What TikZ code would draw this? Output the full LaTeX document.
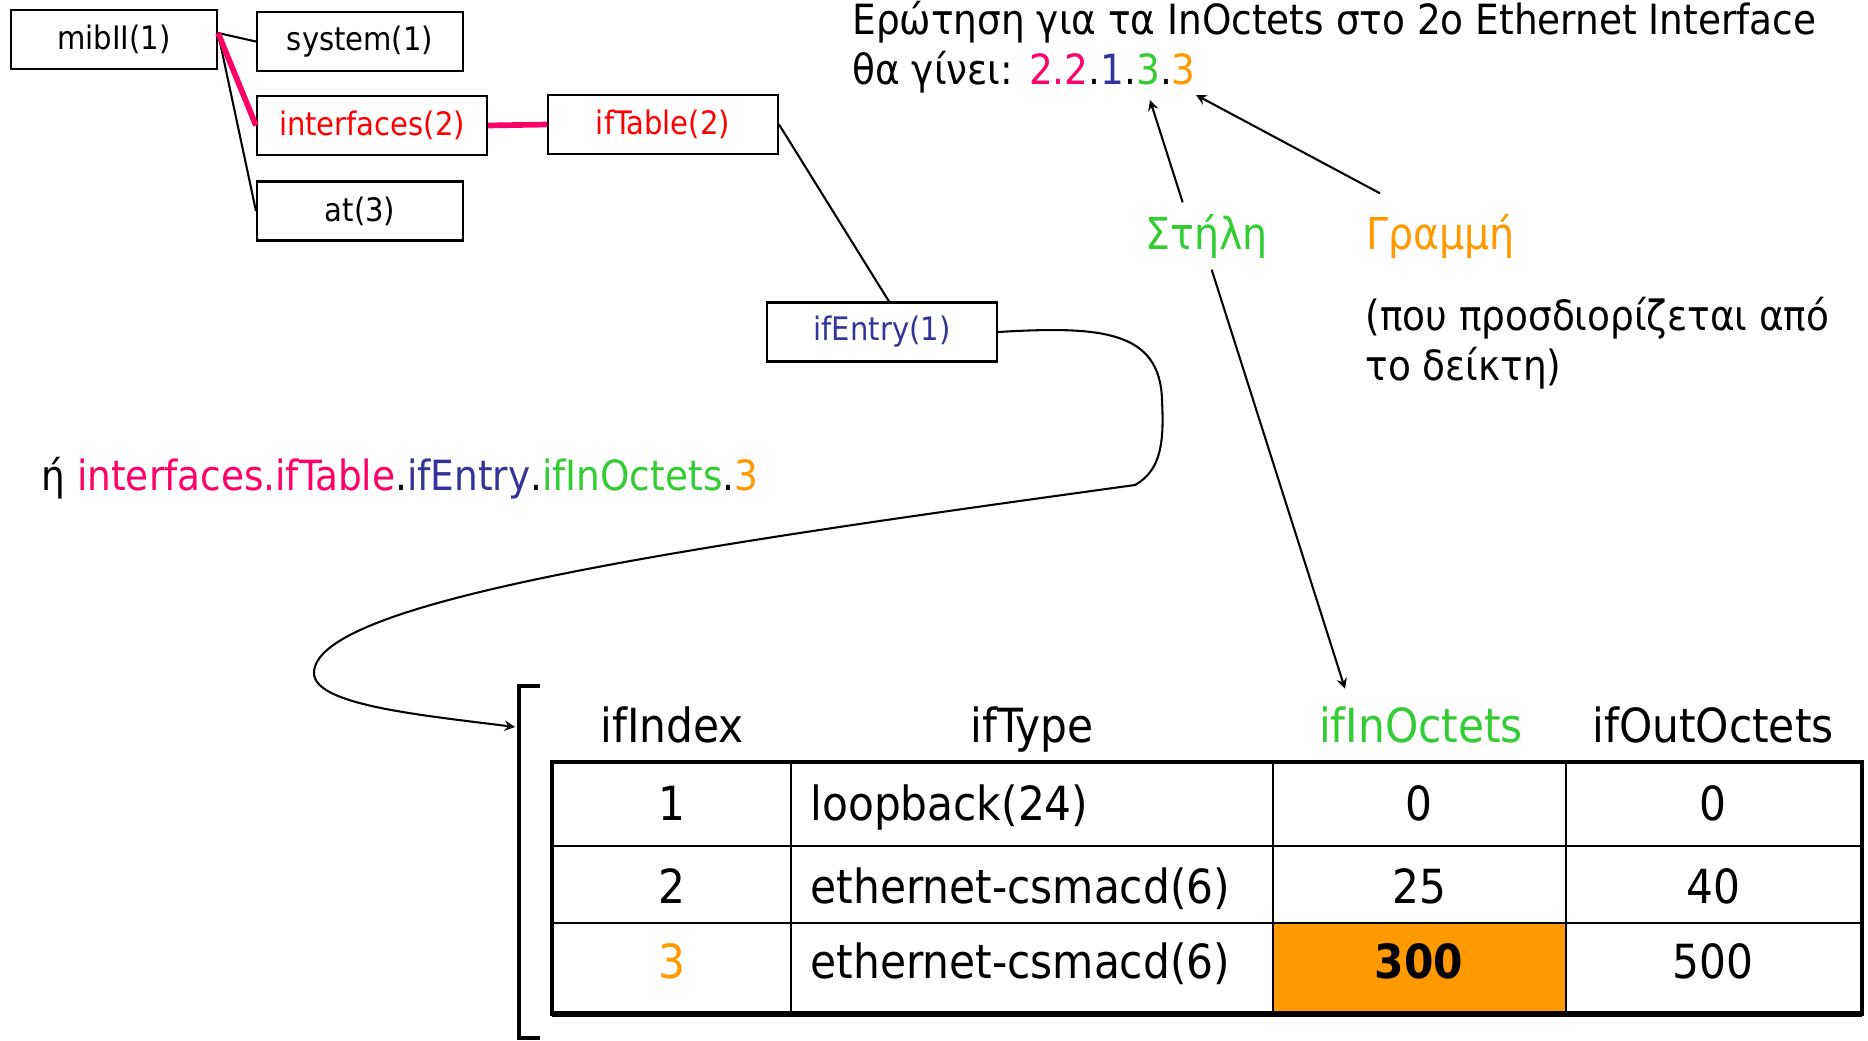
\documentclass[tikz,border=0pt]{standalone}
\usepackage{fontspec}
\setmainfont{DejaVu Sans Condensed}
\usetikzlibrary{arrows,calc}
\definecolor{mibpink}{HTML}{FF0066}
\definecolor{mibred}{HTML}{FF0000}
\definecolor{mibblue}{HTML}{333399}
\definecolor{mibgreen}{HTML}{33CC33}
\definecolor{miborange}{HTML}{FF9900}
\def\px{0.0136cm}
\tikzstyle{arrow} = [line width=0.8pt,->,>=stealth]

\begin{document}
\begin{tikzpicture}[x=\px,y=-\px]
    \useasboundingbox (0,0) rectangle (1868,1041);
    \tikzstyle{oid}=[draw, line width=0.8pt, minimum height=59*\px, inner sep=0pt, font=\fontsize{12.5}{15}\selectfont]
    \tikzstyle{oid narrow}=[oid, minimum width=206*\px]
    \tikzstyle{oid wide}=[oid, minimum width=230*\px]
    \tikzstyle{link}=[line width=0.8pt]
    \tikzstyle{path link}=[mibpink, line width=2.2pt]
    \tikzstyle{lbl}=[inner sep=0pt, anchor=base west, font=\fontsize{16.1}{19}\selectfont]
    \tikzstyle{tag}=[lbl, font=\fontsize{17}{20}\selectfont]
    \tikzstyle{cell}=[inner sep=0pt, anchor=base, font=\fontsize{18.2}{22}\selectfont]
    \tikzstyle{cell left}=[cell, anchor=base west]

    % Draw the MIB tree
    \node[oid narrow] (mib) at (114,39.5) {mibII(1)};
    \node[oid narrow] (sys) at (360,41.5) {system(1)};
    \node[oid wide, text=mibred] (intf) at (372,125.5) {interfaces(2)};
    \node[oid wide, text=mibred] (iftab) at (663,124.5) {ifTable(2)};
    \node[oid narrow] (atb) at (360,211) {at(3)};
    \node[oid wide, text=mibblue] (ifent) at (882,332) {ifEntry(1)};

    \coordinate (mibOut) at ([yshift=6.5*\px]mib.east);
    \draw[link] (mibOut) -- (sys.west);
    \draw[link] (mibOut) -- (atb.west);
    \draw[path link] (mibOut) -- (intf.west);
    \draw[path link] (intf.east) -- (iftab.west);
    \draw[link] (iftab.east) -- ([xshift=7*\px]ifent.north);

    % Question and answer
    \node[lbl] (question) at (852,35) {Ερώτηση για τα InOctets στο 2ο Ethernet Interface};
    \node[lbl] (answer) at (852,85) {θα γίνει: \textcolor{mibpink}{2.2}.\textcolor{mibblue}{1}.\textcolor{mibgreen}{3}.\textcolor{miborange}{3}};
    \coordinate (colTip) at (1150,100);
    \coordinate (rowTip) at (1196,95);

    \node[tag, text=mibgreen] (col) at (1145,249) {Στήλη};
    \node[tag, text=miborange] (row) at (1366,250) {Γραμμή};
    \node[lbl] (rowNote1) at (1365,330) {(που προσδιορίζεται από};
    \node[lbl] (rowNote2) at (1365,380) {το δείκτη)};

    \draw[arrow] ([xshift=-24*\px,yshift=11*\px]col.north) -- (colTip);
    \draw[arrow] ([xshift=14*\px,yshift=21*\px]row.north west) -- (rowTip);

    \node[tag, font=\fontsize{16.1}{19}\selectfont] (oidName) at (41,490) {ή \textcolor{mibpink}{interfaces.ifTable}.\textcolor{mibblue}{ifEntry}.\textcolor{mibgreen}{ifInOctets}.\textcolor{miborange}{3}};

    % Draw the table
    \fill[miborange] (1273,923) rectangle (1566,1014);
    \foreach \x in {791,1273,1566}
        \draw[line width=0.9pt] (\x,762) -- (\x,1014);
    \foreach \y in {846,923}
        \draw[line width=1pt] (552,\y) -- (1862,\y);
    \draw[line width=1.6pt] (552,762) rectangle (1862,1014);
    \draw[line width=2.4pt] (552,1014) -- (1862,1014);

    \foreach \name / \x / \t in {1/672/ifIndex, 2/1032/ifType, 4/1713/ifOutOctets}
        \node[cell] (hdr\name) at (\x,742) {\t};
    \node[cell, text=mibgreen] (hdr3) at (1421,742) {ifInOctets};

    \foreach \r / \y / \idx / \type / \inoct / \outoct in {1/820/1/loopback(24)/0/0, 2/903/2/ethernet-csmacd(6)/25/40}
    {
        \node[cell] (idx-\r) at (672,\y) {\idx};
        \node[cell left] (type-\r) at (810,\y) {\type};
        \node[cell] (in-\r) at (1419,\y) {\inoct};
        \node[cell] (out-\r) at (1713,\y) {\outoct};
    }
    \node[cell, text=miborange] (idx-3) at (672,978) {3};
    \node[cell left] (type-3) at (810,978) {ethernet-csmacd(6)};
    \node[cell, font=\fontsize{18.2}{22}\selectfont\bfseries] (in-3) at (1419,978) {300};
    \node[cell] (out-3) at (1713,978) {500};

    % bracket and link from ifEntry
    \draw[line width=1.8pt] (540,686) -- (519,686) -- (519,1038) -- (540,1038);
    \coordinate (brk) at (515,727);
    \draw[arrow] (ifent.east) .. controls (1100,326) and (1160,330) .. (1162,400)
        .. controls (1164,440) and (1162,470) .. (1135,485)
        .. controls (700,545) and (314,600) .. (314,673)
        .. controls (314,705) and (420,715) .. (brk);

    \draw[arrow] ([xshift=5*\px,yshift=-11*\px]col.south) -- ([xshift=-76*\px,yshift=17*\px]hdr3.north);
\end{tikzpicture}
\end{document}
